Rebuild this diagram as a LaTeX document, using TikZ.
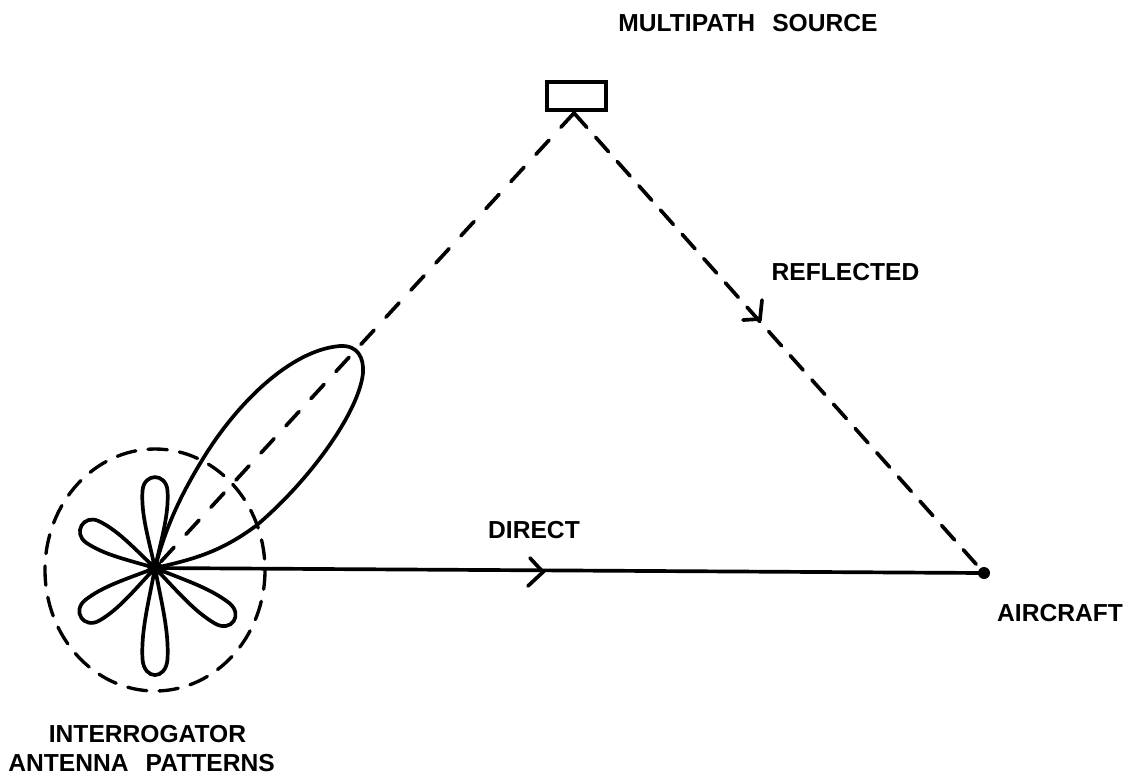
\documentclass[tikz,border=0pt]{standalone}
\usepackage{fontspec}
\setmainfont{Liberation Sans}

\begin{document}
\begin{tikzpicture}[
  x=0.02cm, y=-0.02cm,
  wire/.style={line width=2.1pt, line cap=round},
  dashline/.style={wire, dash pattern=on 11pt off 7.5pt},
  dashwide/.style={wire, dash pattern=on 11pt off 10pt},
  lbl/.style={font=\fontsize{14}{15}\selectfont\bfseries, inner sep=0pt},
]
  \useasboundingbox (0,0) rectangle (1135,778);

  % -- Stations --
  \node[circle, fill, inner sep=0pt, minimum size=0.3cm] (ant) at (155,568) {};
  \node[wire, draw, minimum width=1.18cm, minimum height=0.56cm, inner sep=0pt] (src) at (576.5,96) {};
  \coordinate (apex) at (574,113);
  \node[circle, fill, inner sep=0pt, minimum size=0.24cm] (acft) at (984,573) {};

  % -- Paths --
  \draw[dashwide] (apex) -- (ant.center);
  \draw[dashline] (apex) -- (acft);
  \draw[wire] (ant.center) -- (acft.center);

  % -- Arrow marks --
  \coordinate (tipd) at (543,572);
  \coordinate (tipr) at (760,319);
  \draw[wire] (530,558) -- (tipd) -- (528,586);
  \draw[wire] (762,300) -- (tipr) -- (743,320);

  % -- Antenna patterns --
  \draw[line width=1.9pt, line cap=round, dash pattern=on 11pt off 7pt] (155,570) ellipse [x radius=110, y radius=121];
  \foreach \ang/\len in {90/90, 150/84, 214/88, -90/106, -34/94} {
    \draw[wire, rotate around={\ang:(ant.center)}, shift={(ant.center)}, xscale=\len/100]
      (0,0) .. controls (35,-7) and (60,-14) .. (86,-12.5)
      .. controls (106,-11) and (106,11) .. (86,12.5)
      .. controls (60,14) and (35,7) .. (0,0);
  }
  \draw[wire, line join=round] (ant.center)
    .. controls (165,530) and (178,500) .. (201,462)
    .. controls (235,405) and (290,350) .. (340,346)
    .. controls (358,345) and (364,358) .. (363,373)
    .. controls (359,412) and (310,480) .. (257,525)
    .. controls (220,553) and (190,560) .. (ant.center);

  % -- Labels --
  \node[lbl] (lblsrc) at (748,23) {MULTIPATH\hspace{0.7em}SOURCE};
  \node[lbl] (lblref) at (845.5,272.5) {REFLECTED};
  \node[lbl] (lbldir) at (534,530) {DIRECT};
  \node[lbl] (lblacft) at (1060,613.5) {AIRCRAFT};
  \node[lbl] (lblint) at (147.5,734) {INTERROGATOR};
  \node[lbl] (lblpat) at (141.5,763) {ANTENNA\hspace{0.7em}PATTERNS};
\end{tikzpicture}
\end{document}
